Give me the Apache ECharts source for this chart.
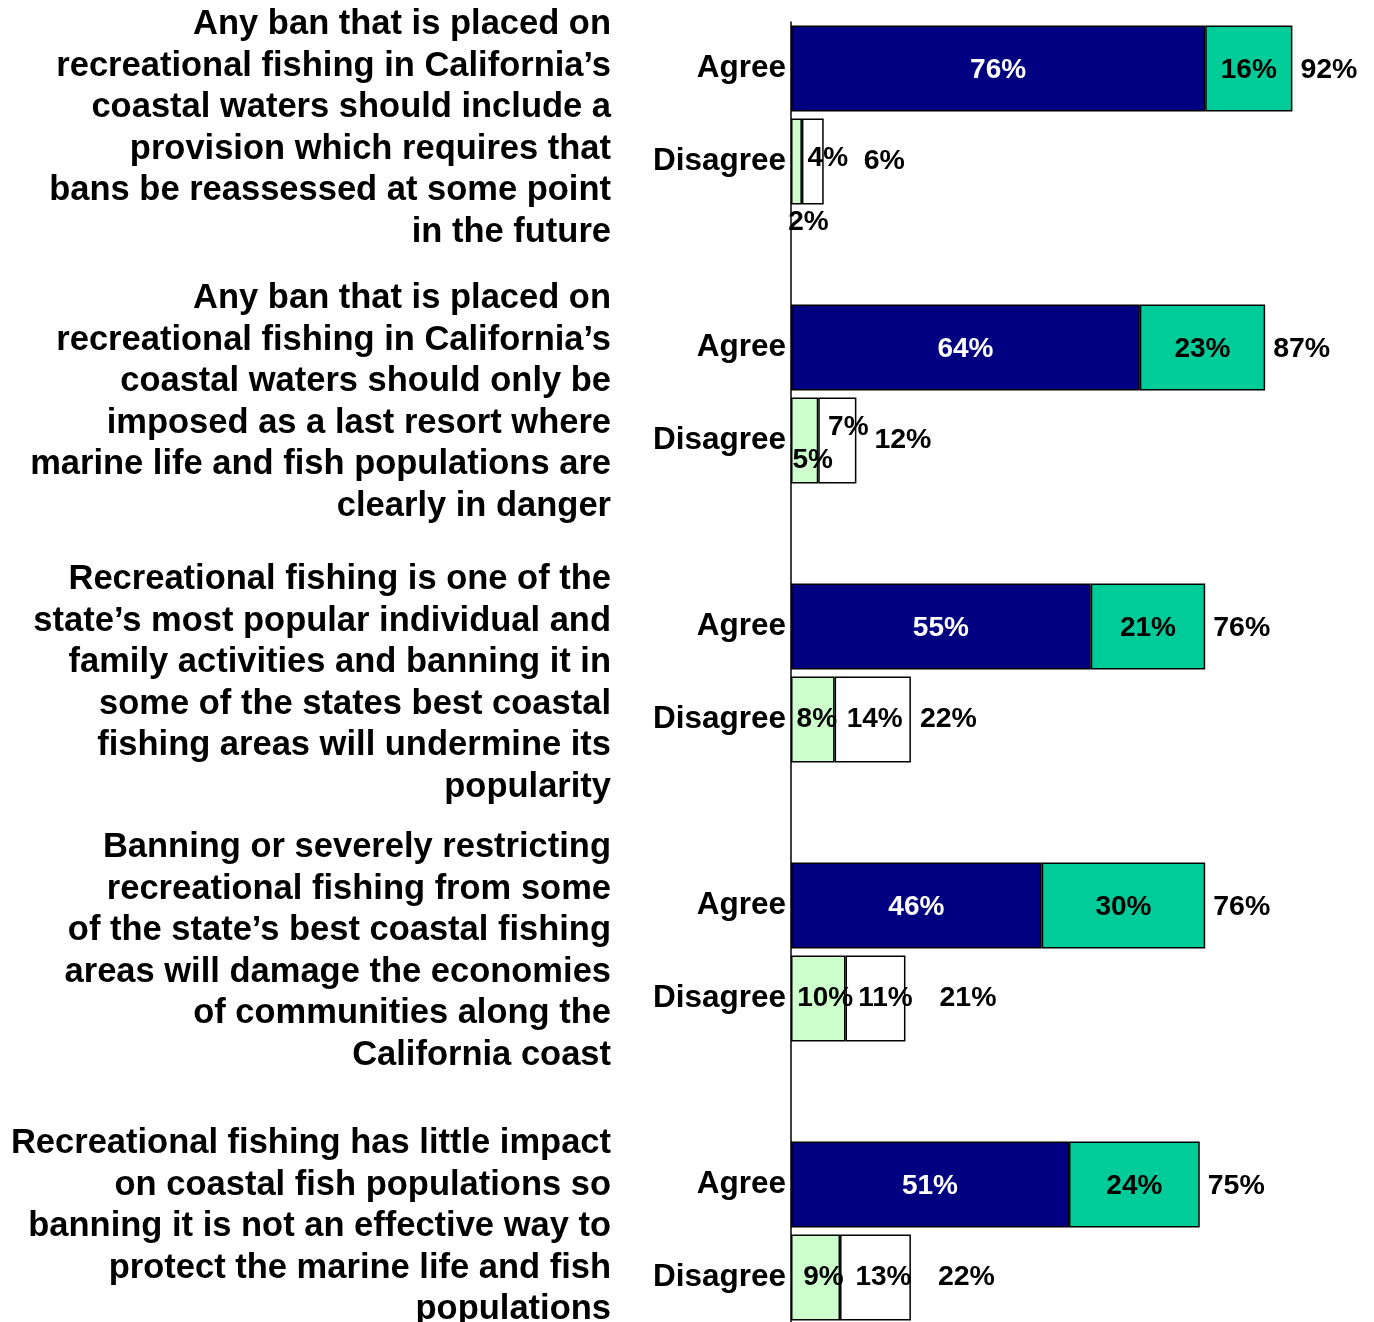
<!DOCTYPE html>
<html>
<head>
<meta charset="utf-8">
<title>Recreational fishing ban attitudes</title>
<script src="https://cdn.jsdelivr.net/npm/echarts@6/dist/echarts.min.js"></script>
<style>
  html, body { margin: 0; padding: 0; background: #fff; }
  #chart { width: 1374px; height: 1322px; }
</style>
</head>
<body>
<div id="chart"></div>
<script>
// statements (one per group of Agree / Disagree rows)
var questions = [
  'Any ban that is placed on\nrecreational fishing in California\u2019s\ncoastal waters should include a\nprovision which requires that\nbans be reassessed at some point\nin the future',
  'Any ban that is placed on\nrecreational fishing in California\u2019s\ncoastal waters should only be\nimposed as a last resort where\nmarine life and fish populations are\nclearly in danger',
  'Recreational fishing is one of the\nstate\u2019s most popular individual and\nfamily activities and banning it in\nsome of the states best coastal\nfishing areas will undermine its\npopularity',
  'Banning or severely restricting\nrecreational fishing from some\nof the state\u2019s best coastal fishing\nareas will damage the economies\nof communities along the\nCalifornia coast',
  'Recreational fishing has little impact\non coastal fish populations so\nbanning it is not an effective way to\nprotect the marine life and fish\npopulations'
]
var rowNames = ['Agree', 'Disagree']

var strongAgree = [76, 64, 55, 46, 51]
var somewhatAgree = [16, 23, 21, 30, 24]
var totalAgree = [92, 87, 76, 76, 75]
var somewhatDisagree = [2, 5, 8, 10, 9]
var strongDisagree = [4, 7, 14, 11, 13]
var totalDisagree = [6, 12, 22, 21, 22]

var FONT = '"Liberation Sans", Arial, sans-serif'

// label nudges (the source chart had hand-placed labels)
var greenNudge = [
  { position: 'bottom', distance: 4, offset: [12, 0] },
  { offset: [8, 20] },
  { offset: [4, 0] },
  { offset: [7, 0] },
  { offset: [8, 0] }
]
var whiteNudge = [[15, -3], [11, -13], [2, 0], [10, 0], [8, 0]]
var totalNudge = [32, 10, 1, 26, 19]
// statement blocks sit a little off the Agree/Disagree midline
var questionShift = [13.5, 8.5, 10.5, -0.5, -4.5]

// 3 slots per group (agree, disagree, gap), trailing gap dropped
var categories = []
var sA = [], wA = [], gD = [], wD = [], tot = []
questions.forEach(function (q, i) {
  categories.push(rowNames[0], rowNames[1])
  sA.push(strongAgree[i], '-')
  wA.push(somewhatAgree[i], '-')
  gD.push('-', { value: somewhatDisagree[i], label: greenNudge[i] })
  wD.push('-', { value: strongDisagree[i], label: { offset: whiteNudge[i] } })
  tot.push(totalAgree[i], { value: totalDisagree[i], label: { offset: [totalNudge[i], 0] } })
  if (i < questions.length - 1) {
    categories.push('')
    sA.push('-'); wA.push('-'); gD.push('-'); wD.push('-'); tot.push('-')
  }
})

function pct(p) { return p.value + '%' }

function segment(name, data, color, textColor) {
  return {
    name: name,
    type: 'bar',
    stack: 'row',
    barWidth: 86,
    barGap: '-100%',
    data: data,
    itemStyle: { color: color, borderColor: '#000', borderWidth: 1.5 },
    label: {
      show: true,
      position: 'inside',
      formatter: pct,
      color: textColor,
      fontFamily: FONT,
      fontWeight: 'bold',
      fontSize: 28,
      offset: [0, 2]
    },
    animation: false
  }
}

var chart = echarts.init(document.getElementById('chart'))
chart.setOption({
  backgroundColor: '#fff',
  grid: { left: 791, top: 22, right: 38, height: 1302, outerBoundsMode: 'none', containLabel: false },
  xAxis: {
    type: 'value',
    min: 0,
    max: 100,
    show: false
  },
  yAxis: [{
    type: 'category',
    data: categories,
    inverse: true,
    axisLine: { lineStyle: { color: '#000', width: 1.5 } },
    axisTick: { show: false },
    axisLabel: {
      color: '#000',
      fontFamily: FONT,
      fontWeight: 'bold',
      fontSize: 31.5,
      margin: 5,
      interval: 0,
      padding: [8, 0, 0, 0]
    }
  }, {
    // invisible axis used only to hang the statement text between each pair
    type: 'value',
    min: 0,
    max: 14,
    interval: 1,
    inverse: true,
    position: 'left',
    offset: 172,
    axisLine: { show: false },
    axisTick: { show: false },
    splitLine: { show: false },
    axisLabel: {
      margin: 8,
      color: '#000',
      fontFamily: FONT,
      fontWeight: 'bold',
      fontSize: 34.5,
      lineHeight: 41.5,
      align: 'right',
      formatter: function (v) {
        if (v % 3 !== 1) return ''
        var i = (v - 1) / 3
        return '{q' + i + '|' + questions[i].split('\n').join('}\n{q' + i + '|') + '}'
      },
      rich: (function () {
        var r = {}
        questionShift.forEach(function (s, i) {
          r['q' + i] = {
            fontFamily: FONT, fontWeight: 'bold', fontSize: 34.5, lineHeight: 41.5,
            color: '#000', padding: [s * 2, 0, 0, 0]
          }
        })
        return r
      })()
    }
  }],
  series: [
    segment('Strongly agree', sA, '#000080', '#fff'),
    segment('Somewhat agree', wA, '#00CC99', '#000'),
    segment('Somewhat disagree', gD, '#CCFFCC', '#000'),
    segment('Strongly disagree', wD, '#FFFFFF', '#000'),
    {
      name: 'Total',
      type: 'bar',
      barWidth: 86,
      barGap: '-100%',
      data: tot,
      silent: true,
      itemStyle: { color: 'rgba(0,0,0,0)' },
      label: {
        show: true,
        position: 'right',
        distance: 8,
        formatter: pct,
        color: '#000',
        fontFamily: FONT,
        fontWeight: 'bold',
        fontSize: 28.5,
        offset: [0, 2]
      },
      animation: false
    }
  ]
})
</script>
</body>
</html>
